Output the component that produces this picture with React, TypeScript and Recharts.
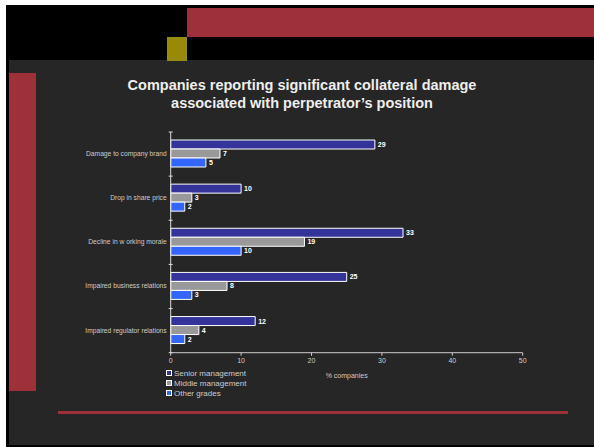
import { BarChart, Bar, XAxis, YAxis, LabelList } from "recharts";

const categories = [
  "Damage to company brand",
  "Drop in share price",
  "Decline in w orking morale",
  "Impaired business relations",
  "Impaired regulator relations",
];
const seriesNames = ["Senior management", "Middle management", "Other grades"];
const seriesColors = ["#333399", "#999999", "#3366ff"];
const senior = [29, 10, 33, 25, 12];
const middle = [7, 3, 19, 8, 4];
const other = [5, 2, 10, 3, 2];
const xTicks = [0, 10, 20, 30, 40, 50];

const data = categories.map((name, i) => ({
  name,
  senior: senior[i],
  middle: middle[i],
  other: other[i],
}));

const keys = ["senior", "middle", "other"];

const RED = "#9e3039";
const BG = "#262626";
const BAND = 220.7 / categories.length;

// category label at band centre, tick mark at band top (and bottom for the last one)
function CatTick(props: any) {
  const { x, y, payload, index } = props;
  return (
    <g>
      <line x1={x + 6} x2={x + 10} y1={y - BAND / 2} y2={y - BAND / 2} stroke="#dddddd" />
      {index === categories.length - 1 && (
        <line x1={x + 6} x2={x + 10} y1={y + BAND / 2} y2={y + BAND / 2} stroke="#dddddd" />
      )}
      <text x={x + 4} y={y} dy={2} textAnchor="end" fontSize={6.7} fill="#cccccc" fontFamily="Liberation Sans, Arial, sans-serif">
        {payload.value}
      </text>
    </g>
  );
}

export default function App() {
  return (
    <div style={{ position: "absolute", left: 0, top: 0, width: 594, height: 447, background: "#ffffff", overflow: "hidden", fontFamily: "Liberation Sans, Arial, sans-serif" }}>
      {/* slide frame */}
      <div style={{ position: "absolute", left: 6, top: 5, width: 588, height: 442, background: "#000000" }} />
      <div style={{ position: "absolute", left: 9, top: 60, width: 585, height: 385, background: BG }} />
      <div style={{ position: "absolute", left: 187, top: 8, width: 407, height: 29, background: RED }} />
      <div style={{ position: "absolute", left: 167, top: 37, width: 20, height: 24, background: "#988a09" }} />
      <div style={{ position: "absolute", left: 9, top: 73, width: 27, height: 318, background: RED }} />
      <div style={{ position: "absolute", left: 58, top: 411, width: 510, height: 3, background: RED }} />

      <div style={{ position: "absolute", left: 0, top: 76, width: 604, textAlign: "center", color: "#eeeeee", fontWeight: "bold", fontSize: 14.5, lineHeight: "18px" }}>
        Companies reporting significant collateral damage
        <br />
        associated with perpetrator’s position
      </div>

      <div style={{ position: "absolute", left: 0, top: 0 }}>
        <BarChart
          width={594}
          height={447}
          data={data}
          layout="vertical"
          margin={{ top: 132, right: 71.3, bottom: 68.3, left: 10.7 }}
          barCategoryGap={8}
          barGap={0}
        >
          <XAxis
            type="number"
            domain={[0, 50]}
            ticks={xTicks}
            interval={0}
            height={26}
            stroke="#cccccc"
            tickSize={3}
            tick={{ fontSize: 7, fill: "#cccccc" }}
            label={{ value: "% companies", position: "insideBottom", offset: 1, fontSize: 7, fill: "#cccccc" }}
          />
          <YAxis
            type="category"
            dataKey="name"
            width={160}
            stroke="#dddddd"
            tickLine={false}
            tick={<CatTick />}
            interval={0}
          />
          {keys.map((k, i) => (
            <Bar key={k} dataKey={k} name={seriesNames[i]} fill={seriesColors[i]} stroke="#ffffff" strokeWidth={1} isAnimationActive={false}>
              <LabelList dataKey={k} position="right" offset={3} fontSize={7} fontWeight="bold" fill="#ffffff" />
            </Bar>
          ))}
        </BarChart>
      </div>

      {/* legend */}
      <div style={{ position: "absolute", left: 166, top: 368 }}>
        {seriesNames.map((n, i) => (
          <div key={n} style={{ display: "flex", alignItems: "center", height: 10, fontSize: 8, color: "#cccccc" }}>
            <span style={{ display: "inline-block", width: 4, height: 4, background: seriesColors[i], border: "1px solid #ffffff", marginRight: 2 }} />
            {n}
          </div>
        ))}
      </div>
    </div>
  );
}
